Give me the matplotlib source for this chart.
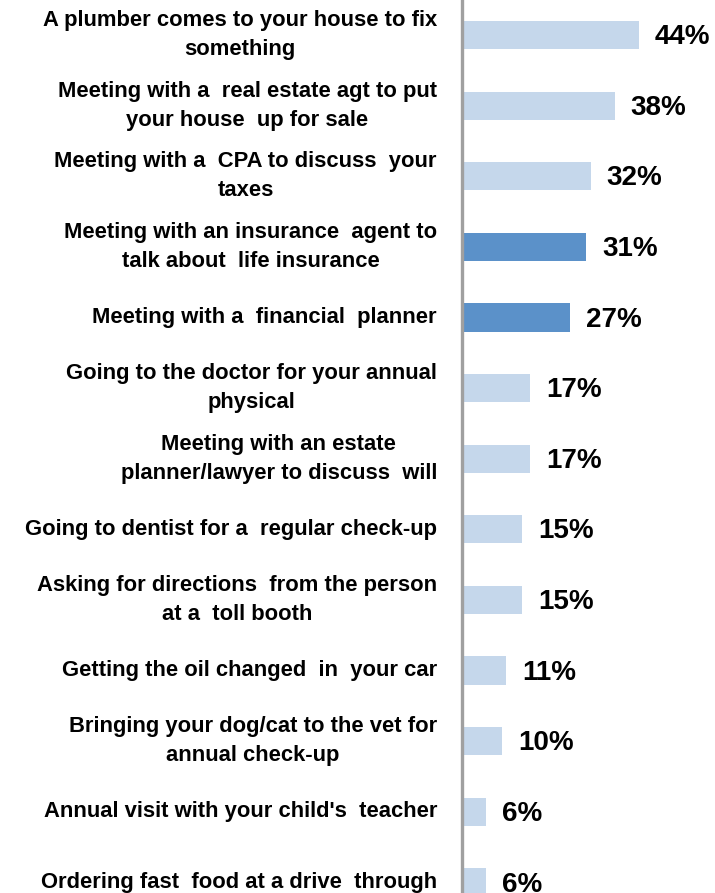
import matplotlib
matplotlib.use("Agg")
import matplotlib.pyplot as plt

categories = [
    "A plumber comes to your house to fix\nsomething",
    "Meeting with a  real estate agt to put\nyour house  up for sale",
    "Meeting with a  CPA to discuss  your\ntaxes",
    "Meeting with an insurance  agent to\ntalk about  life insurance",
    "Meeting with a  financial  planner",
    "Going to the doctor for your annual\nphysical",
    "Meeting with an estate\nplanner/lawyer to discuss  will",
    "Going to dentist for a  regular check-up",
    "Asking for directions  from the person\nat a  toll booth",
    "Getting the oil changed  in  your car",
    "Bringing your dog/cat to the vet for\nannual check-up",
    "Annual visit with your child's  teacher",
    "Ordering fast  food at a drive  through",
]
values = [44, 38, 32, 31, 27, 17, 17, 15, 15, 11, 10, 6, 6]
highlight = [False, False, False, True, True, False, False, False, False, False, False, False, False]

light = "#c5d7eb"
dark = "#5b91c9"
label_font = ["Liberation Sans", "DejaVu Sans"]

fig = plt.figure(figsize=(7.15, 8.93), dpi=100)
ax = fig.add_axes([462 / 715, 0, 1 - 462 / 715, 1])

pos = list(range(len(values)))
colors = [dark if h else light for h in highlight]
ax.barh(pos, values, height=0.4, color=colors, edgecolor="none")

ax.set_xlim(0, 63)
ax.set_ylim(12.15, -0.496)

for y, v in zip(pos, values):
    ax.text(v + 4.0, y + 0.03, f"{v}%", va="center", ha="left", fontsize=20,
            fontweight="bold", family=label_font, color="black")

ax.set_yticks(pos)
ax.set_yticklabels(categories, fontsize=15.8, fontweight="bold", family=label_font,
                   multialignment="center", linespacing=1.5, va="center")
ax.tick_params(axis="y", length=0, pad=18)
ax.set_xticks([])

for side in ["top", "right", "bottom"]:
    ax.spines[side].set_visible(False)
ax.spines["left"].set_color("#a0a0a0")
ax.spines["left"].set_linewidth(2.4)

fig.savefig("out.png", dpi=100)
